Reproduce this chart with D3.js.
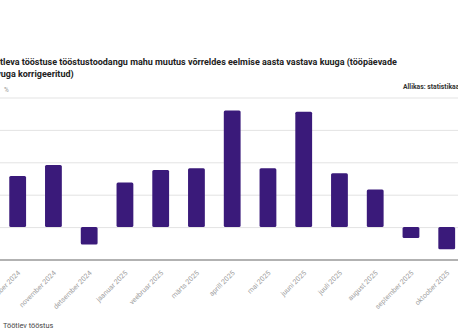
<!DOCTYPE html>
<html><head><meta charset="utf-8">
<script src="https://cdn.jsdelivr.net/npm/d3@7"></script>
<style>
html,body{margin:0;padding:0;background:#fff;}
svg{display:block;font-family:Roboto, "Noto Sans", sans-serif;}
</style></head>
<body>
<svg id="c" width="458" height="336"></svg>
<script>
const categories = ["oktoober 2024","november 2024","detsember 2024","jaanuar 2025","veebruar 2025","märts 2025","aprill 2025","mai 2025","juuni 2025","juuli 2025","august 2025","september 2025","oktoober 2025"];
const values = [7.9, 9.6, -2.7, 6.9, 8.8, 9.1, 18.0, 9.1, 17.8, 8.3, 5.8, -1.7, -3.4];
const yTicks = [-5, 0, 5, 10, 15, 20];
const titleLines = ["Töötleva tööstuse tööstustoodangu mahu muutus võrreldes eelmise aasta vastava kuuga (tööpäevade", "arvuga korrigeeritud)"];
const titleCut = ["Töö", "arv"];
const source = "Allikas: statistikaamet";
const unit = "%";
const seriesName = "Töötlev tööstus";

const svg = d3.select("#c");

const x = d3.scaleBand().domain(categories).range([-0.2, 464.6]).paddingInner(0.53).paddingOuter(0.265);
const y = d3.scaleLinear().domain([-5, 20]).range([259.5, 97.5]);

function textWidth(str, attrs){
  const t = svg.append("text").text(str);
  Object.entries(attrs).forEach(([k,v])=>t.style(k,v));
  const w = t.node().getComputedTextLength();
  t.remove();
  return w;
}

// title
const titleStyle = {"font-size":"9px","font-weight":"700"};
titleLines.forEach((line,i)=>{
  const off = textWidth(titleCut[i], titleStyle);
  svg.append("text").attr("x", (i===0?0:0.7) - off).attr("y", 65 + i*11.5)
    .style("font-size","9px").style("font-weight","700").attr("fill","#222").text(line);
});

svg.append("text").attr("x", 403).attr("y", 89).style("font-size","6.8px").style("font-weight","700").attr("fill","#333").text(source);
svg.append("text").attr("x", 4).attr("y", 92).style("font-size","6.5px").attr("fill","#999").text(unit);

// gridlines
const yAxis = d3.axisLeft(y).tickValues(yTicks.filter(d=>d>-5)).tickSize(-520).tickFormat("");
const gy = svg.append("g").attr("transform","translate(-20,0)").call(yAxis);
gy.select(".domain").remove();
gy.selectAll(".tick line").attr("stroke","#e3e3e3").attr("stroke-width",1);

// bars
svg.append("g").selectAll("rect").data(values).join("rect")
  .attr("x",(d,i)=>x(categories[i]))
  .attr("width", x.bandwidth())
  .attr("y", d=> d>=0 ? y(d) : y(0))
  .attr("height", d=> Math.abs(y(d)-y(0)))
  .attr("rx",1.5)
  .attr("fill","#3a1a7a");

// bottom axis
const xAxis = d3.axisBottom(x).tickSize(0).tickFormat(d=>d);
const gx = svg.append("g").attr("transform",`translate(0,${y(-5)})`).call(xAxis);
gx.select(".domain").attr("stroke","#666").attr("stroke-width",1.2).attr("d","M-20,0.5H520");
gx.selectAll(".tick text")
  .attr("fill","#a0a0a0").style("font-size","7px").style("font-family","Roboto, sans-serif")
  .attr("text-anchor","end").attr("dy",null).attr("y",0)
  .attr("transform","translate(3,14) rotate(-45)");

svg.append("text").attr("x",3).attr("y",328).style("font-size","7.3px").attr("fill","#444").text(seriesName);
</script>
</body></html>
